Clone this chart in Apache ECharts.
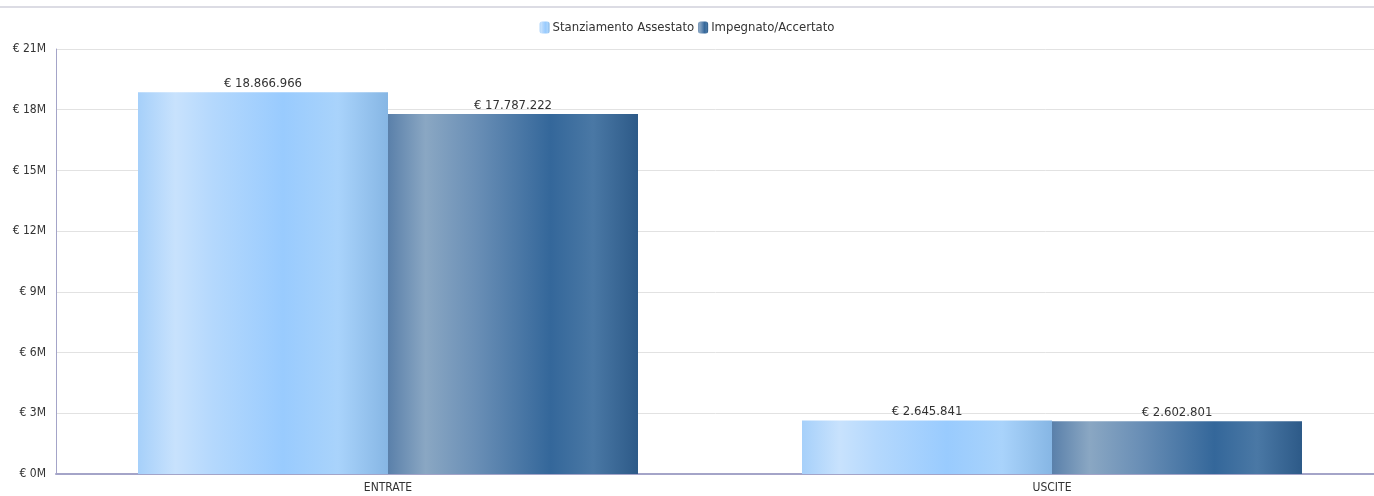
<!DOCTYPE html>
<html>
<head>
<meta charset="utf-8">
<script src="https://cdn.jsdelivr.net/npm/echarts@6/dist/echarts.min.js"></script>
<style>
html,body{margin:0;padding:0;background:#fff;}
#chart{width:1374px;height:496px;}
</style>
</head>
<body>
<div id="chart"></div>
<script>
var categorie = ['ENTRATE', 'USCITE'];
var stanziamento = [18866966, 2645841];
var impegnato = [17787222, 2602801];
var nomiSerie = ['Stanziamento Assestato', 'Impegnato/Accertato'];

var font = '"DejaVu Sans Condensed", "DejaVu Sans", sans-serif';

function euro(v) {
	return '€ ' + String(Math.round(v)).replace(/\B(?=(\d{3})+(?!\d))/g, '.');
}

// gradiente orizzontale delle barre
var gradChiaro = new echarts.graphic.LinearGradient(0, 0, 1, 0, [
	{offset: 0, color: '#a6d0fa'},
	{offset: 0.15, color: '#c8e2fd'},
	{offset: 0.3, color: '#b4d8fd'},
	{offset: 0.58, color: '#99cbfe'},
	{offset: 0.8, color: '#a9d3fb'},
	{offset: 1, color: '#86b6e4'}
]);
var gradScuro = new echarts.graphic.LinearGradient(0, 0, 1, 0, [
	{offset: 0, color: '#5a80aa'},
	{offset: 0.15, color: '#8aa7c3'},
	{offset: 0.35, color: '#6a8fb6'},
	{offset: 0.65, color: '#34679a'},
	{offset: 0.82, color: '#4a78a5'},
	{offset: 1, color: '#2d5a88'}
]);

var chart = echarts.init(document.getElementById('chart'));
var etichetta = {
	show: true,
	position: 'top',
	distance: 2,
	color: '#333',
	fontSize: 13,
	fontFamily: font,
	formatter: function (p) { return euro(p.value); }
};
var option = {
	animation: false,
	textStyle: {fontFamily: font},
	graphic: [
		{
			type: 'rect',
			shape: {x: 0, y: 6, width: 1374, height: 2},
			style: {fill: '#dcdce4'}
		}
	],
	legend: {
		data: nomiSerie,
		top: 16,
		left: 'center',
		itemWidth: 10,
		itemHeight: 12,
		itemGap: 4,
		textStyle: {fontFamily: font, fontSize: 13, color: '#333', padding: [0, 0, 0, -2]}
	},
	grid: {
		left: 56,
		width: 1328,
		top: 49,
		bottom: 22,
		outerBoundsMode: 'none'
	},
	xAxis: {
		type: 'category',
		data: categorie,
		axisLine: {lineStyle: {color: '#a4a4c8', width: 2}},
		axisTick: {show: false},
		axisLabel: {color: '#333', fontSize: 12, fontFamily: font, margin: 8}
	},
	yAxis: {
		type: 'value',
		min: 0,
		max: 21000000,
		interval: 3000000,
		axisLine: {show: true, lineStyle: {color: '#a4a4c8', width: 1}},
		axisTick: {show: false},
		splitLine: {lineStyle: {color: '#e2e2e2'}},
		axisLabel: {
			color: '#333',
			fontSize: 12,
			fontFamily: font,
			margin: 10,
			formatter: function (v) { return '€ ' + (v / 1000000) + 'M'; }
		}
	},
	series: [
		{
			name: nomiSerie[0],
			type: 'bar',
			data: stanziamento,
			barWidth: 250,
			barGap: '0%',
			itemStyle: {color: gradChiaro},
			label: etichetta
		},
		{
			name: nomiSerie[1],
			type: 'bar',
			data: impegnato,
			barWidth: 250,
			barGap: '0%',
			itemStyle: {color: gradScuro},
			label: etichetta
		}
	]
};
chart.setOption(option);
window.addEventListener('resize', function () {
	chart.resize();
});
</script>
</body>
</html>
